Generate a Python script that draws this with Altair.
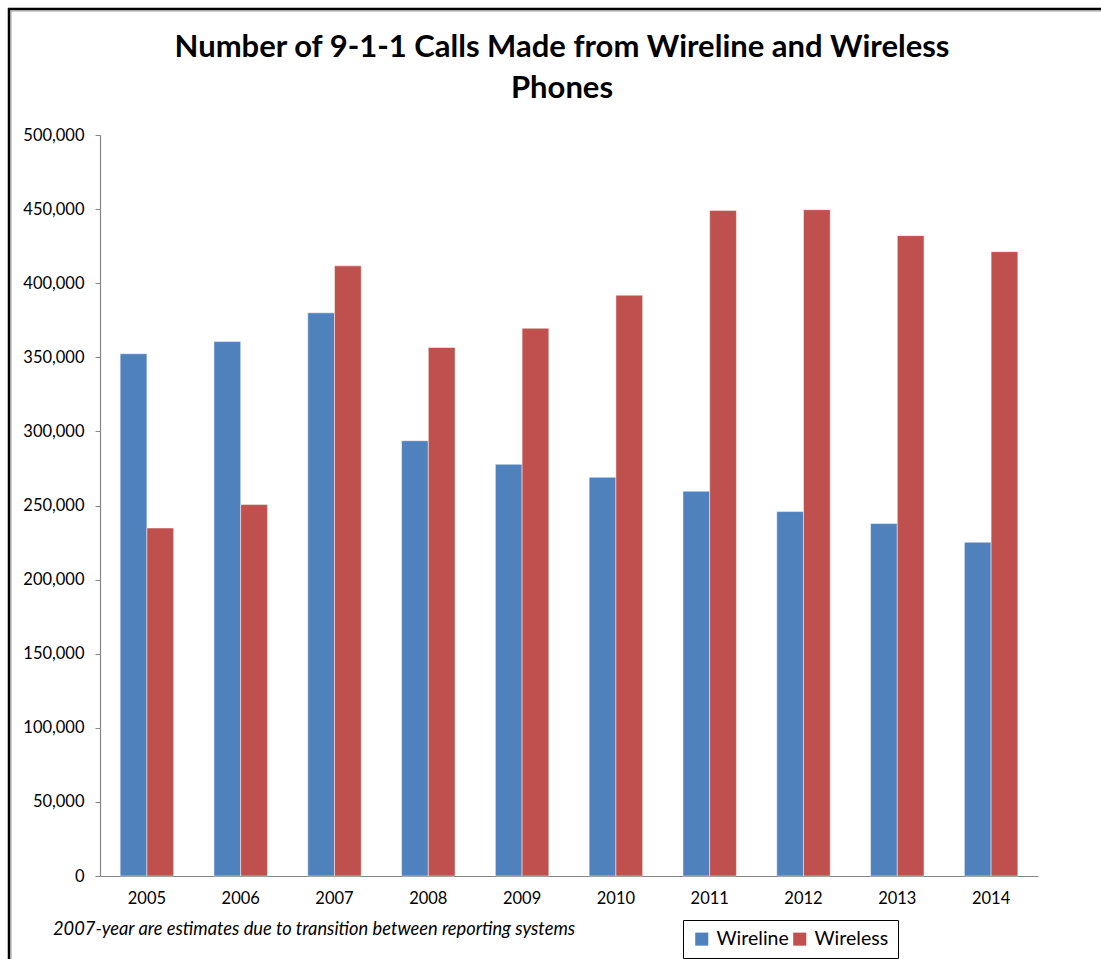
import altair as alt
import pandas as pd

# 9-1-1 call volumes by year and phone type
years = ["2005", "2006", "2007", "2008", "2009", "2010", "2011", "2012", "2013", "2014"]
wireline = [352400, 360600, 380000, 293700, 277800, 269000, 259600, 245900, 237800, 225200]
wireless = [234800, 250600, 411700, 356600, 369600, 391900, 449100, 449600, 432100, 421300]
series = ["Wireline", "Wireless"]
colors = ["#4F81BD", "#C0504D"]
title_lines = ["Number of 9-1-1 Calls Made from Wireline and Wireless", "Phones"]
footnote = ["2007-year are estimates due to transition between reporting systems"]

rows = []
for i, y in enumerate(years):
    rows.append({"Year": y, "Type": series[0], "Calls": wireline[i]})
    rows.append({"Year": y, "Type": series[1], "Calls": wireless[i]})
df = pd.DataFrame(rows)

W, H = 938, 741
FONT = "Lato"

bars = alt.Chart(df).mark_bar(
    stroke="white", strokeWidth=0.8, strokeOpacity=0.6
).encode(
    x=alt.X(
        "Year:N",
        sort=years,
        title=None,
        scale=alt.Scale(paddingInner=0.43, paddingOuter=0.215),
        axis=alt.Axis(
            labelAngle=0, labelFont=FONT, labelFontSize=16.5, labelColor="#000000",
            labelPadding=14, ticks=False, domainColor="#868686", domainWidth=1.2,
        ),
    ),
    xOffset=alt.XOffset("Type:N", sort=series, scale=alt.Scale(paddingInner=0, paddingOuter=0)),
    y=alt.Y(
        "Calls:Q",
        title=None,
        scale=alt.Scale(domain=[0, 500000], nice=False),
        axis=alt.Axis(
            values=list(range(0, 500001, 50000)), format=",d", grid=False,
            labelFont=FONT, labelFontSize=16.5, labelColor="#000000", labelPadding=11,
            tickSize=5, tickColor="#868686", domainColor="#868686", domainWidth=1.2,
        ),
    ),
    color=alt.Color(
        "Type:N",
        sort=series,
        scale=alt.Scale(domain=series, range=colors),
        legend=alt.Legend(
            title=None, orient="none", legendX=583, legendY=785, direction="horizontal",
            symbolType="square", symbolSize=170, symbolStrokeWidth=0,
            labelFont=FONT, labelFontSize=19.5, labelColor="#000000", labelOffset=5,
            columnPadding=1, strokeColor="#000000", padding=9,
        ),
    ),
)

# two-line heading
heading = [
    alt.Chart(pd.DataFrame({"t": [line]})).mark_text(
        font=FONT, fontSize=31, fontWeight="bold", align="center", baseline="middle", color="#000000"
    ).encode(x=alt.value(462), y=alt.value(yy), text="t:N")
    for line, yy in zip(title_lines, [-87, -46])
]

note = alt.Chart(pd.DataFrame({"t": footnote})).mark_text(
    font=FONT, fontSize=18.3, fontStyle="italic", align="left", baseline="middle", color="#000000"
).encode(x=alt.value(-47), y=alt.value(795), text="t:N")

# frame around the whole chart
one = pd.DataFrame({"k": [0]})
frame_left = alt.Chart(one).mark_rule(color="#000000", strokeWidth=2.5).encode(
    x=alt.value(-91), y=alt.value(-127), y2=alt.value(830)
)
frame_top = alt.Chart(one).mark_rule(color="#000000", strokeWidth=2.5).encode(
    y=alt.value(-126), x=alt.value(-92), x2=alt.value(1010)
)
inner_left = alt.Chart(one).mark_rule(color="#999999", strokeWidth=1).encode(
    x=alt.value(-89), y=alt.value(-124), y2=alt.value(830)
)
inner_top = alt.Chart(one).mark_rule(color="#999999", strokeWidth=1).encode(
    y=alt.value(-124), x=alt.value(-89), x2=alt.value(1010)
)

chart = alt.layer(
    bars, *heading, note, frame_left, frame_top, inner_left, inner_top
).properties(
    width=W,
    height=H,
    padding={"left": 100, "top": 135, "right": 63, "bottom": 83},
    autosize=alt.AutoSizeParams(type="none"),
    background="#ffffff",
).configure_view(stroke=None)

chart.save("out.html", embed_options={"renderer": "svg", "actions": False})
